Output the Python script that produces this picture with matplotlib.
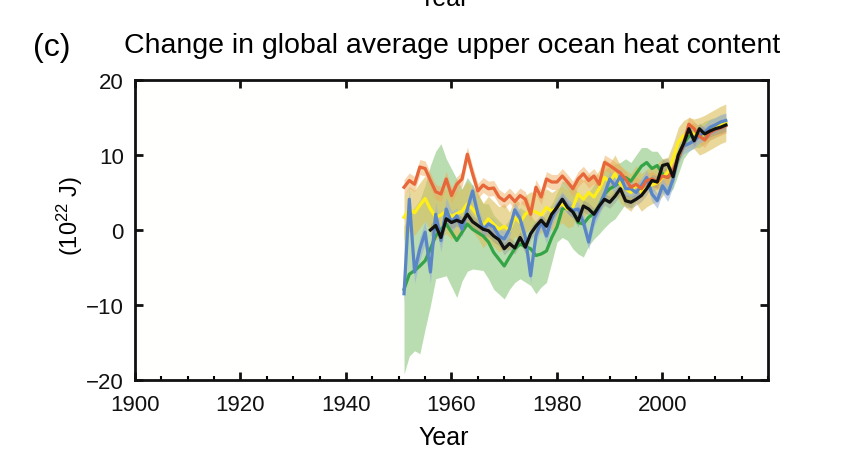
import numpy as np
import matplotlib
matplotlib.use("Agg")
import matplotlib.pyplot as plt
from matplotlib.ticker import MultipleLocator

plt.rcParams['font.family'] = ['Liberation Sans', 'DejaVu Sans']
plt.rcParams['mathtext.fontset'] = 'custom'
plt.rcParams['mathtext.rm'] = 'Liberation Sans'
plt.rcParams['mathtext.it'] = 'Liberation Sans'
plt.rcParams['mathtext.default'] = 'regular'

# ---------------- data (10^22 J) ----------------
years_main = list(range(1951, 2013))

orange = [5.7, 6.6, 6.1, 8.4, 8.2, 6.6, 5.1, 4.8, 6.8, 4.6,
          6.1, 6.8, 10.1, 7.5, 5.2, 6.0, 5.5, 5.6, 4.4, 3.9,
          4.6, 3.8, 4.6, 4.1, 2.1, 5.7, 4.4, 6.8, 6.4, 6.4,
          7.2, 6.4, 5.5, 6.8, 7.5, 6.6, 7.2, 6.1, 9.0, 8.6,
          8.1, 7.6, 6.8, 5.7, 6.1, 5.5, 6.6, 6.8, 6.4, 7.2,
          7.0, 7.9, 9.7, 11.5, 14.1, 13.5, 12.5, 12.0, 13.0, 13.4,
          13.6, 13.9]

yellow = [1.7, 2.8, 2.3, 3.3, 4.2, 2.8, 1.7, 2.0, 2.5, 1.8,
          2.2, 2.5, 3.5, 2.8, 1.9, 0.6, 1.5, 0.8, 0.1, 0.5,
          -0.1, 1.7, 1.0, 2.1, 2.6, 2.4, 2.0, 3.0, 2.5, 3.0,
          3.5, 2.8, 3.0, 4.8, 4.1, 5.0, 4.4, 5.5, 7.0, 6.4,
          7.5, 6.1, 5.5, 5.0, 6.1, 5.0, 5.6, 6.0, 6.3, 7.0,
          7.7, 9.5, 11.7, 12.6, 13.0, 12.8, 12.5, 12.8, 13.2, 13.6,
          14.0, 14.3]

blue = [-8.5, 4.1, -5.6, -2.5, -0.3, -5.6, 2.1, -1.4, 2.8, 1.0,
        1.9, 0.1, 2.8, 5.2, 2.1, 0.1, 0.8, 0.4, -0.8, -1.2,
        0.1, 2.7, 1.5, -1.0, -6.1, -0.8, 1.2, -0.8, 1.5, 3.2,
        4.1, 3.2, 2.6, 2.8, 1.0, -1.6, 1.5, 3.0, 4.8, 6.8,
        5.9, 7.2, 5.5, 5.5, 5.0, 5.9, 7.0, 4.8, 3.9, 5.9,
        4.8, 6.8, 9.9, 11.2, 11.5, 11.9, 12.6, 13.0, 13.7, 14.0,
        14.4, 14.6]

years_green = [1951, 1952, 1953, 1954, 1955, 1956, 1957, 1958, 1959, 1961,
               1962, 1963, 1964, 1966, 1967, 1968, 1970, 1971, 1972, 1973,
               1975, 1976, 1977, 1978, 1979, 1980, 1981, 1982, 1983, 1984,
               1985, 1986, 1987, 1988, 1989, 1990, 1991, 1992, 1993, 1994,
               1995, 1996, 1997, 1998, 1999, 2000, 2001, 2002, 2003, 2004,
               2005, 2006, 2007, 2008, 2009, 2010, 2011, 2012]
green = [-7.9, -5.9, -5.4, -4.8, -4.1, -2.5, -0.8, 0.1, 0.8, -1.4,
         -0.3, 0.8, 0.1, -0.8, -1.6, -3.0, -4.8, -3.6, -2.5, -1.9,
         -2.5, -3.4, -3.2, -2.8, -1.0, 0.4, 2.8, 3.0, 2.5, 1.0,
         0.8, 1.7, 2.2, 3.2, 4.8, 5.5, 5.9, 6.4, 7.0, 6.5,
         7.5, 8.5, 9.0, 8.2, 8.6, 7.5, 7.0, 7.6, 9.5, 11.5,
         12.5, 12.8, 12.5, 13.0, 13.3, 13.7, 14.0, 14.2]
green_low = [-19.2, -16.8, -16.1, -16.5, -13.2, -10.1, -6.5, -6.3, -6.1, -9.0,
             -6.8, -5.5, -5.2, -5.4, -6.5, -7.9, -9.2, -7.9, -7.0, -6.5,
             -7.4, -8.5, -7.6, -7.0, -4.3, -1.6, -1.0, -1.4, -2.5, -3.2,
             -3.6, -2.1, -1.2, -0.5, 0.3, 1.0, 1.5, 2.5, 3.5, 3.0,
             4.0, 5.0, 5.5, 5.0, 5.5, 5.0, 4.8, 5.5, 7.5, 9.5,
             10.5, 11.0, 11.0, 11.5, 12.0, 12.3, 12.7, 13.0]
green_high = [0.5, 2.0, 3.0, 4.0, 6.0, 8.6, 10.5, 11.5, 9.5, 6.8,
              5.5, 7.0, 6.0, 3.5, 3.5, 2.0, 0.5, 1.5, 2.0, 3.0,
              2.0, 1.0, 1.5, 2.5, 3.5, 5.0, 6.5, 6.5, 6.0, 5.0,
              4.5, 5.0, 6.0, 7.0, 8.0, 8.5, 8.8, 9.0, 9.5, 9.0,
              10.0, 11.0, 11.0, 10.5, 10.5, 9.5, 9.0, 9.5, 11.5, 13.0,
              14.0, 14.3, 14.0, 14.5, 14.8, 15.0, 15.3, 15.5]

years_black = list(range(1956, 2013))
black = [0.0, 0.6, -1.0, 1.5, 1.0, 1.3, 1.0, 2.1, 1.1, 0.6,
         0.1, -0.1, -0.8, -1.3, -2.5, -1.8, -2.4, -1.0, -2.3, -0.5,
         0.5, 1.3, 0.5, 2.1, 3.0, 4.1, 3.0, 2.4, 1.2, 3.2,
         2.8, 2.1, 3.2, 4.1, 3.7, 4.5, 5.5, 3.9, 3.7, 4.1,
         4.6, 5.5, 6.6, 6.4, 8.6, 8.8, 7.1, 10.0, 11.5, 13.5,
         11.9, 13.5, 12.8, 13.2, 13.5, 13.7, 14.0]

# uncertainty half-widths (10^22 J)
yellow_err = [3.0] * 20 + [2.5] * 30 + [2.0] * 6 + [2.5] * 6
orange_err = [1.0] * 62
blue_err = [1.5] * 10 + [1.0] * 52
black_err = [0.8] * 57

x_ticks = [1900, 1920, 1940, 1960, 1980, 2000]
y_ticks = [-20, -10, 0, 10, 20]

# ---------------- figure ----------------
W, H = 842, 464
fig = plt.figure(figsize=(W / 100, H / 100), dpi=100)
ax = fig.add_axes([135 / W, 1 - 381 / H, (768 - 135) / W, (381 - 81) / H])
ax.set_facecolor('#fffffd')

def band(x, y, e, color, alpha, z):
    y = np.asarray(y, float); e = np.asarray(e, float)
    ax.fill_between(x, y - e, y + e, color=color, alpha=alpha, lw=0, zorder=z)

ax.fill_between(years_green, green_low, green_high, color='#b2d9a8', alpha=0.9, lw=0, zorder=1)
band(years_main, yellow, yellow_err, '#dcbf5a', 0.6, 2)
band(years_main, orange, orange_err, '#f0ac60', 0.5, 3)
band(years_main, blue, blue_err, '#98b2d8', 0.6, 4)
band(years_black, black, black_err, '#8a8a8a', 0.35, 5)

lw = 2.3
ax.plot(years_green, green, color='#35a447', lw=lw, zorder=6)
ax.plot(years_main, yellow, color='#ffee1a', lw=lw, zorder=7)
ax.plot(years_main, blue, color='#5b86c6', lw=lw, zorder=8)
ax.plot(years_main, orange, color='#e7663a', lw=lw, zorder=9)
ax.plot(years_black, black, color='#111111', lw=lw, zorder=10)

ax.set_xlim(1900, 2020)
ax.set_ylim(-20, 20)
ax.set_xticks(x_ticks)
ax.set_yticks(y_ticks)
ax.set_yticklabels(['\u221220', '\u221210', '0', '10', '20'])
ax.xaxis.set_minor_locator(MultipleLocator(5))
for s in ax.spines.values():
    s.set_linewidth(2.0)
    s.set_color('#111111')
ax.tick_params(axis='both', which='major', direction='in', length=6, width=2.0,
               labelsize=16, top=True, right=True, colors='#111111')
ax.tick_params(axis='y', which='major', pad=8)
ax.tick_params(axis='x', which='major', pad=10)
ax.tick_params(axis='x', which='minor', direction='in', length=3, width=1.5,
               top=False, bottom=True)

fig.text(70 / W, 1 - 216 / H, r'(10$^{22}$ J)', rotation=90,
         ha='center', va='center', fontsize=17)
fig.text(444 / W, 1 - 438 / H, 'Year', ha='center', va='center', fontsize=18)
fig.text(444 / W, 1 - 6.5 / H, 'Year', ha='center', va='baseline', fontsize=18)
fig.text(452 / W, 1 - 46 / H, 'Change in global average upper ocean heat content',
         ha='center', va='center', fontsize=20.5)
fig.text(52 / W, 1 - 48 / H, '(c)', ha='center', va='center', fontsize=23)

fig.savefig('out.png', dpi=100, facecolor='white')
